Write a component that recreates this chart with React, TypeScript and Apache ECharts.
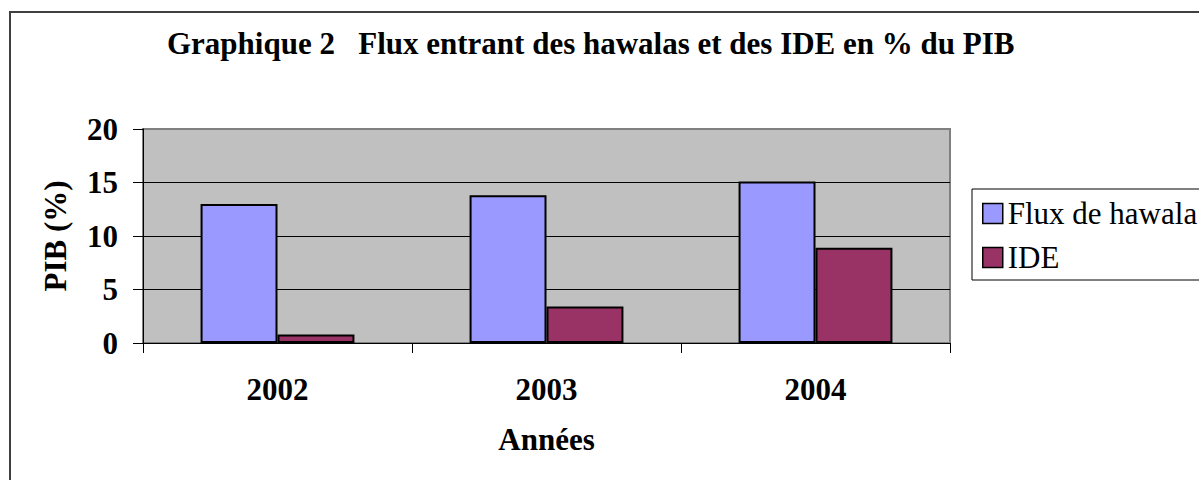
import React, { useEffect, useRef } from "react";
import * as echarts from "echarts";

const years = ["2002", "2003", "2004"];
const hawalaValues = [13.0, 13.8, 15.1];
const ideValues = [0.8, 3.4, 8.9];
const seriesNames = ["Flux de hawala", "IDE"];
const titleText = "Graphique 2   Flux entrant des hawalas et des IDE en % du PIB";
const yAxisName = "PIB (%)";
const xAxisName = "Années";

const FONT = '"Liberation Serif", "Times New Roman", serif';
const FS = 31;

export default function App() {
  const ref = useRef<HTMLDivElement>(null);
  useEffect(() => {
    if (!ref.current) return;
    const chart = echarts.init(ref.current, null, { renderer: "svg" });
    chart.setOption({
      animation: false,
      backgroundColor: "#ffffff",
      title: {
        text: titleText,
        left: 167,
        top: 28,
        padding: 0,
        textStyle: { fontFamily: FONT, fontSize: FS, fontWeight: "bold", color: "#000" },
      },
      graphic: [
        {
          type: "rect",
          shape: { x: 10, y: 12, width: 1400, height: 700 },
          style: { fill: "none", stroke: "#404040", lineWidth: 2 },
          silent: true,
        },
      ],
      legend: {
        orient: "vertical",
        left: 972,
        top: 189,
        padding: [9, 10, 7, 10],
        itemGap: 13,
        itemWidth: 20,
        itemHeight: 20,
        itemStyle: { borderColor: "#000", borderWidth: 1.5 },
        borderColor: "#000",
        borderWidth: 1,
        icon: "rect",
        textStyle: { fontFamily: FONT, fontSize: FS, color: "#000", lineHeight: 31, padding: [0, 0, 0, 0] },
        data: seriesNames,
      },
      grid: {
        left: 143,
        top: 129,
        width: 807,
        height: 214,
        show: true,
        backgroundColor: "#c0c0c0",
        borderColor: "#808080",
        borderWidth: 2,
        containLabel: false,
      },
      xAxis: {
        type: "category",
        data: years,
        boundaryGap: true,
        axisLine: { show: true, lineStyle: { color: "#000", width: 1 } },
        axisTick: { show: true, length: 10, inside: false, lineStyle: { color: "#000" } },
        axisLabel: { fontFamily: FONT, fontSize: FS, fontWeight: "bold", color: "#000", margin: 31 },
        name: xAxisName,
        nameLocation: "middle",
        nameGap: 81,
        nameTextStyle: { fontFamily: FONT, fontSize: FS, fontWeight: "bold", color: "#000" },
        splitLine: { show: false },
      },
      yAxis: {
        type: "value",
        min: 0,
        max: 20,
        interval: 5,
        axisLine: { show: true, lineStyle: { color: "#000", width: 1 } },
        axisTick: { show: true, length: 10, inside: false, lineStyle: { color: "#000" } },
        axisLabel: { fontFamily: FONT, fontSize: FS, fontWeight: "bold", color: "#000", margin: 25 },
        splitLine: {
          show: true,
          lineStyle: { color: ["#000", "#000", "#000", "#000", "#808080"], width: 1 },
        },
        name: yAxisName,
        nameLocation: "middle",
        nameGap: 72,
        nameRotate: 90,
        nameTextStyle: { fontFamily: FONT, fontSize: FS, fontWeight: "bold", color: "#000" },
      },
      series: [
        {
          name: seriesNames[0],
          type: "bar",
          data: hawalaValues,
          barGap: "0%",
          barCategoryGap: "42.8%",
          itemStyle: { color: "#9999ff", borderColor: "#000", borderWidth: 2 },
        },
        {
          name: seriesNames[1],
          type: "bar",
          data: ideValues,
          itemStyle: { color: "#993366", borderColor: "#000", borderWidth: 2 },
        },
      ],
    });
    return () => chart.dispose();
  }, []);
  return (
    <div
      ref={ref}
      style={{ position: "fixed", left: 0, top: 0, width: 1199, height: 480 }}
    />
  );
}
